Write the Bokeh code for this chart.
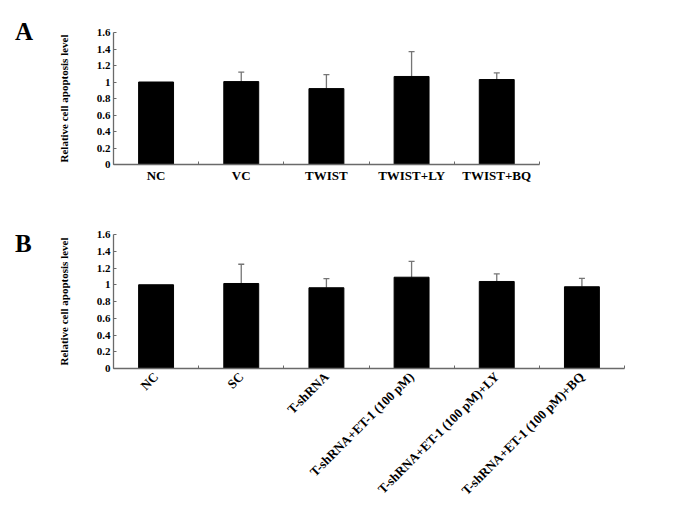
import math
from bokeh.plotting import figure
from bokeh.layouts import column, row
from bokeh.models import (Range1d, FixedTicker, Whisker, TeeHead, ColumnDataSource, Div)
from bokeh.embed import file_html
from bokeh.resources import INLINE

# ---- data ----
cats_a = ["NC", "VC", "TWIST", "TWIST+LY", "TWIST+BQ"]
vals_a = [1.00, 1.005, 0.92, 1.067, 1.03]
sd_a = [0.0, 0.115, 0.17, 0.30, 0.08]

cats_b = ["NC", "SC", "T-shRNA", "T-shRNA+ET-1 (100 pM)",
          "T-shRNA+ET-1 (100 pM)+LY", "T-shRNA+ET-1 (100 pM)+BQ"]
vals_b = [1.00, 1.015, 0.964, 1.09, 1.039, 0.976]
sd_b = [0.0, 0.23, 0.11, 0.19, 0.09, 0.10]

y_ticks = [0, 0.2, 0.4, 0.6, 0.8, 1.0, 1.2, 1.4, 1.6]
y_tick_labels = ["0", "0.2", "0.4", "0.6", "0.8", "1", "1.2", "1.4", "1.6"]
y_label = "Relative cell apoptosis level"
panel_letters = ["A", "B"]

FONT = "Liberation Serif"
AXIS_COLOR = "#6a6a6a"
SLOTS = 6  # both panels share the same category spacing


def panel(cats, vals, sds, width, height, b_top, b_bottom, xlab_size, rotate):
    n = len(cats)
    xs = [i + 0.5 for i in range(n)]
    p = figure(width=width, height=height, output_backend="svg", toolbar_location=None,
               x_range=Range1d(0, SLOTS), y_range=Range1d(0, 1.6),
               min_border_left=73, min_border_right=56,
               min_border_top=b_top, min_border_bottom=b_bottom)
    p.outline_line_color = None
    p.xgrid.visible = False
    p.ygrid.visible = False
    p.background_fill_color = "white"
    p.border_fill_color = "white"

    p.vbar(x=xs, top=vals, width=0.41, bottom=0, fill_color="black", line_color="black")

    ex = [x for x, s in zip(xs, sds) if s > 0]
    ev = [v for v, s in zip(vals, sds) if s > 0]
    eu = [v + s for v, s in zip(vals, sds) if s > 0]
    src = ColumnDataSource(dict(x=ex, lower=ev, upper=eu))
    w = Whisker(source=src, base="x", lower="lower", upper="upper",
                line_color="#757575", line_width=1.3,
                upper_head=TeeHead(size=6, line_color="#757575", line_width=1.3),
                lower_head=None)
    p.add_layout(w)

    # x axis
    xa = p.xaxis[0]
    xa.bounds = (0, n)
    xa.ticker = FixedTicker(ticks=xs, minor_ticks=list(range(n + 1)))
    xa.major_label_overrides = {x: c for x, c in zip(xs, cats)}
    xa.major_tick_in = 0
    xa.major_tick_out = 0
    xa.minor_tick_in = 3
    xa.minor_tick_out = 0
    xa.minor_tick_line_color = AXIS_COLOR
    xa.axis_line_color = AXIS_COLOR
    xa.axis_line_width = 1.3
    xa.major_label_text_font = FONT
    xa.major_label_text_font_style = "bold"
    xa.major_label_text_font_size = xlab_size
    xa.major_label_text_color = "black"
    if rotate:
        xa.major_label_orientation = math.pi / 4
        xa.major_label_standoff = 6
    else:
        xa.major_label_standoff = 3

    # y axis
    ya = p.yaxis[0]
    ya.ticker = FixedTicker(ticks=y_ticks, minor_ticks=[])
    ya.major_label_overrides = {t: l for t, l in zip(y_ticks, y_tick_labels)}
    ya.major_tick_in = 3
    ya.major_tick_out = 0
    ya.major_tick_line_color = AXIS_COLOR
    ya.minor_tick_line_color = None
    ya.axis_line_color = AXIS_COLOR
    ya.axis_line_width = 1.3
    ya.major_label_standoff = 3
    ya.major_label_text_font = FONT
    ya.major_label_text_font_style = "bold"
    ya.major_label_text_font_size = "11px"
    ya.major_label_text_color = "black"
    ya.axis_label = y_label
    ya.axis_label_text_font = FONT
    ya.axis_label_text_font_style = "bold"
    ya.axis_label_text_font_size = "11px"
    ya.axis_label_text_color = "black"
    ya.axis_label_standoff = 24
    return p


def letter_div(letter, height, pad_top):
    return Div(text=letter, width=40, height=height, margin=0,
               styles={"font-family": FONT, "font-weight": "bold", "font-size": "25px",
                       "color": "black", "padding-top": f"{pad_top}px",
                       "padding-left": "15px", "line-height": "normal",
                       "box-sizing": "border-box"})


pa = panel(cats_a, vals_a, sd_a, 640, 208, 32, 44, "13px", False)
pb = panel(cats_b, vals_b, sd_b, 640, 302, 26, 142, "13px", True)

layout = column(row(letter_div(panel_letters[0], 208, 18), pa, spacing=0),
                row(letter_div(panel_letters[1], 302, 22), pb, spacing=0),
                spacing=0)
open("out.html", "w").write(file_html(layout, INLINE))
